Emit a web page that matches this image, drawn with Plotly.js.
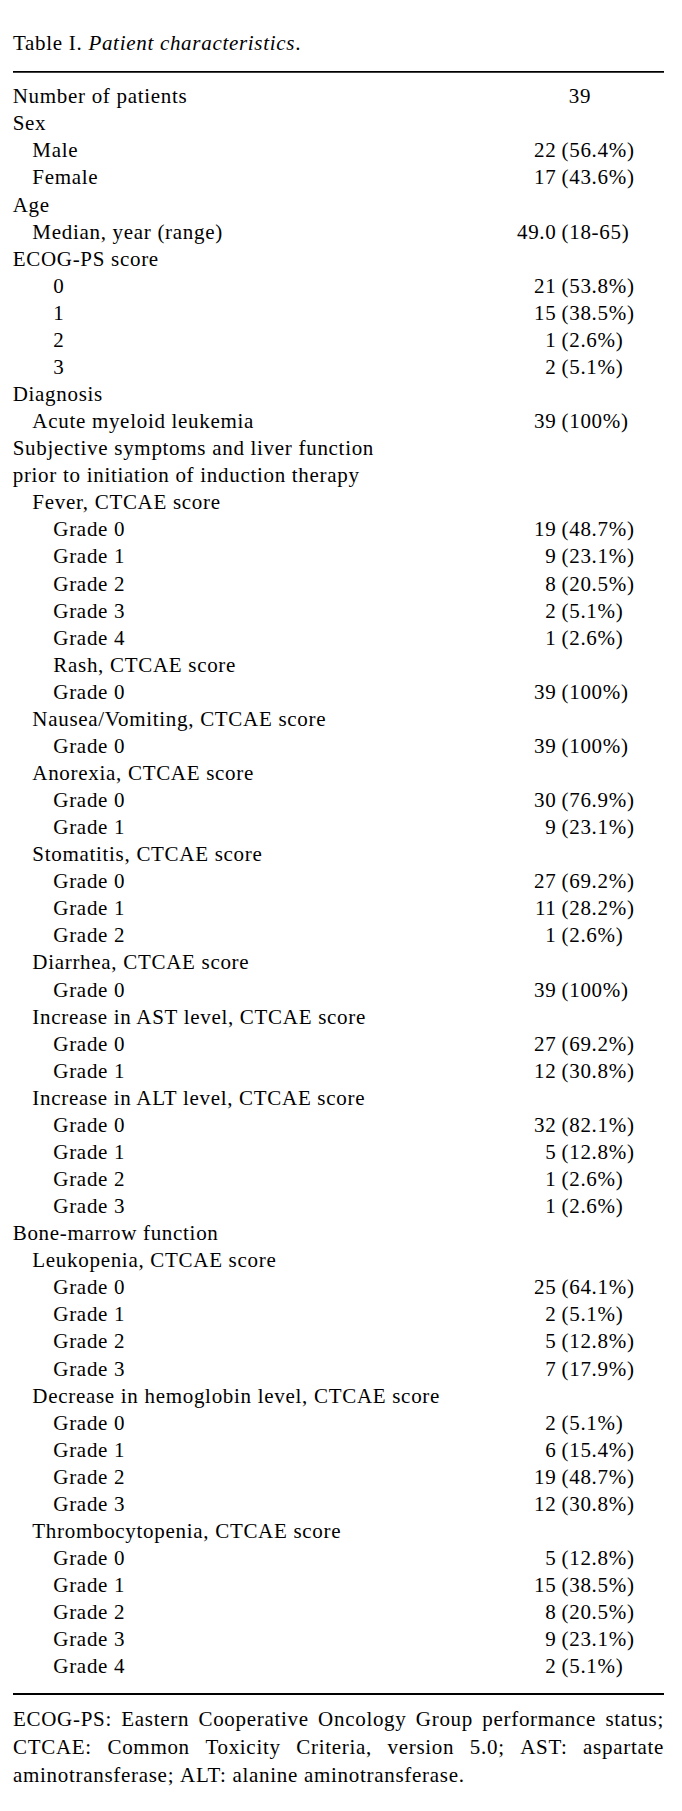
<!DOCTYPE html>
<html>
<head>
<meta charset="utf-8">
<script src="https://cdn.plot.ly/plotly-3.0.1.min.js"></script>
<style>
html, body { margin: 0; padding: 0; background: #ffffff; }
#chart text { letter-spacing: 0.7px; }
</style>
</head>
<body>
<div id="chart"></div>
<script>
// ---------- DATA ----------
const titleText = 'Table I. <i>Patient characteristics</i>.';

const labels = [
  'Number of patients', 'Sex', 'Male', 'Female', 'Age', 'Median, year (range)',
  'ECOG-PS score', '0', '1', '2', '3', 'Diagnosis', 'Acute myeloid leukemia',
  'Subjective symptoms and liver function', 'prior to initiation of induction therapy',
  'Fever, CTCAE score', 'Grade 0', 'Grade 1', 'Grade 2', 'Grade 3', 'Grade 4',
  'Rash, CTCAE score', 'Grade 0',
  'Nausea/Vomiting, CTCAE score', 'Grade 0',
  'Anorexia, CTCAE score', 'Grade 0', 'Grade 1',
  'Stomatitis, CTCAE score', 'Grade 0', 'Grade 1', 'Grade 2',
  'Diarrhea, CTCAE score', 'Grade 0',
  'Increase in AST level, CTCAE score', 'Grade 0', 'Grade 1',
  'Increase in ALT level, CTCAE score', 'Grade 0', 'Grade 1', 'Grade 2', 'Grade 3',
  'Bone-marrow function',
  'Leukopenia, CTCAE score', 'Grade 0', 'Grade 1', 'Grade 2', 'Grade 3',
  'Decrease in hemoglobin level, CTCAE score', 'Grade 0', 'Grade 1', 'Grade 2', 'Grade 3',
  'Thrombocytopenia, CTCAE score', 'Grade 0', 'Grade 1', 'Grade 2', 'Grade 3', 'Grade 4'
];

// hierarchy level of each row (0 = section, 1 = item, 2 = sub-item)
const levels = [
  0, 0, 1, 1, 0, 1, 0, 2, 2, 2, 2, 0, 1, 0, 0, 1,
  2, 2, 2, 2, 2,
  2, 2,
  1, 2,
  1, 2, 2,
  1, 2, 2, 2,
  1, 2,
  1, 2, 2,
  1, 2, 2, 2, 2,
  0,
  1, 2, 2, 2, 2,
  1, 2, 2, 2, 2,
  1, 2, 2, 2, 2, 2
];

const values = [
  '39', '', '22 (56.4%)', '17 (43.6%)', '', '49.0 (18-65)',
  '', '21 (53.8%)', '15 (38.5%)', '1 (2.6%)', '2 (5.1%)', '', '39 (100%)',
  '', '',
  '', '19 (48.7%)', '9 (23.1%)', '8 (20.5%)', '2 (5.1%)', '1 (2.6%)',
  '', '39 (100%)',
  '', '39 (100%)',
  '', '30 (76.9%)', '9 (23.1%)',
  '', '27 (69.2%)', '11 (28.2%)', '1 (2.6%)',
  '', '39 (100%)',
  '', '27 (69.2%)', '12 (30.8%)',
  '', '32 (82.1%)', '5 (12.8%)', '1 (2.6%)', '1 (2.6%)',
  '',
  '', '25 (64.1%)', '2 (5.1%)', '5 (12.8%)', '7 (17.9%)',
  '', '2 (5.1%)', '6 (15.4%)', '19 (48.7%)', '12 (30.8%)',
  '', '5 (12.8%)', '15 (38.5%)', '8 (20.5%)', '9 (23.1%)', '2 (5.1%)'
];

const footnoteLines = [
  'ECOG-PS: Eastern Cooperative Oncology Group performance status;',
  'CTCAE: Common Toxicity Criteria, version 5.0; AST: aspartate',
  'aminotransferase; ALT: alanine aminotransferase.'
];
const footnoteJustify = [true, true, false];

// ---------- STYLE / LAYOUT CONSTANTS ----------
const W = 682, H = 1811;
const FONT = '"Liberation Serif", "Times New Roman", Times, serif';
const FS = 21;
const LS = 0.7;             // letter spacing (px), also applied via CSS
const INK = '#000000';
const ROW0 = 98.0;          // pixel centre of first row
const ROWH = 27.07;         // pixel row pitch
const LEFT = 13, RIGHT = 664;
const INDENT = [12.7, 32.3, 53.3];
const VALUE_CENTER = 580;   // single values (no bracket part) are centred here
const COUNT_RIGHT = 556.5;  // counts end here
const BRACKET_LEFT = 561.5; // bracketed part starts here
const TITLE_Y = 43;
const TOP_RULE = 71.8, BOTTOM_RULE = 1694;
const FOOT_Y = [1720.8, 1748.6, 1776.4];

const pyToRow = py => (py - ROW0) / ROWH;
const baseFont = { family: FONT, size: FS, color: INK };

// ---------- TRACES ----------
const rowIdx = labels.map((_, i) => i);

const labelTrace = {
  type: 'scatter', mode: 'text',
  x: levels.map(l => INDENT[l]),
  y: rowIdx,
  text: labels,
  textposition: 'middle right',
  textfont: baseFont,
  hoverinfo: 'skip', showlegend: false, cliponaxis: false
};

// split "n (x%)" into the count and the bracketed part
const vIdx = rowIdx.filter(i => values[i] !== '');
const splitVal = s => {
  const k = s.indexOf(' ');
  return k < 0 ? [s, ''] : [s.slice(0, k), s.slice(k + 1)];
};
const singleIdx = vIdx.filter(i => splitVal(values[i])[1] === '');
const pairIdx = vIdx.filter(i => splitVal(values[i])[1] !== '');

const singleTrace = {
  type: 'scatter', mode: 'text',
  x: singleIdx.map(() => VALUE_CENTER), y: singleIdx,
  text: singleIdx.map(i => values[i]),
  textposition: 'middle center',
  textfont: baseFont,
  hoverinfo: 'skip', showlegend: false, cliponaxis: false
};
const countTrace = {
  type: 'scatter', mode: 'text',
  x: pairIdx.map(() => COUNT_RIGHT), y: pairIdx,
  text: pairIdx.map(i => splitVal(values[i])[0]),
  textposition: 'middle left',
  textfont: baseFont,
  hoverinfo: 'skip', showlegend: false, cliponaxis: false
};
const bracketTrace = {
  type: 'scatter', mode: 'text',
  x: pairIdx.map(() => BRACKET_LEFT), y: pairIdx,
  text: pairIdx.map(i => splitVal(values[i])[1]),
  textposition: 'middle right',
  textfont: baseFont,
  hoverinfo: 'skip', showlegend: false, cliponaxis: false
};

// footnote: justified by measuring word widths
const cv = document.createElement('canvas').getContext('2d');
cv.font = FS + 'px ' + FONT;
const wWidth = w => cv.measureText(w).width + LS * w.length;
const fx = [], fy = [], ft = [];
footnoteLines.forEach((line, li) => {
  const words = line.split(' ');
  const widths = words.map(wWidth);
  const total = widths.reduce((a, b) => a + b, 0);
  const gap = footnoteJustify[li] && words.length > 1
    ? (RIGHT - LEFT - total) / (words.length - 1)
    : wWidth(' ');
  let cx = LEFT;
  words.forEach((w, k) => {
    fx.push(cx); fy.push(pyToRow(FOOT_Y[li])); ft.push(w);
    cx += widths[k] + gap;
  });
});
const footTrace = {
  type: 'scatter', mode: 'text',
  x: fx, y: fy, text: ft,
  textposition: 'middle right',
  textfont: baseFont,
  hoverinfo: 'skip', showlegend: false, cliponaxis: false
};

// ---------- LAYOUT ----------
const layout = {
  width: W, height: H,
  margin: { l: 0, r: 0, t: 0, b: 0, pad: 0 },
  paper_bgcolor: '#ffffff', plot_bgcolor: '#ffffff',
  showlegend: false,
  hovermode: false,
  title: {
    text: titleText,
    font: baseFont,
    x: LEFT / W, xref: 'paper', xanchor: 'left',
    y: 1 - TITLE_Y / H, yref: 'paper', yanchor: 'middle'
  },
  xaxis: { range: [0, W], visible: false, fixedrange: true },
  yaxis: { range: [pyToRow(H), pyToRow(0)], visible: false, fixedrange: true },
  shapes: [TOP_RULE, BOTTOM_RULE].map(py => ({
    type: 'line', xref: 'x', yref: 'y',
    x0: LEFT, x1: RIGHT, y0: pyToRow(py), y1: pyToRow(py),
    line: { color: INK, width: 1.8 }
  }))
};

Plotly.newPlot('chart', [labelTrace, singleTrace, countTrace, bracketTrace, footTrace], layout,
  { staticPlot: true, displayModeBar: false });
</script>
</body>
</html>
